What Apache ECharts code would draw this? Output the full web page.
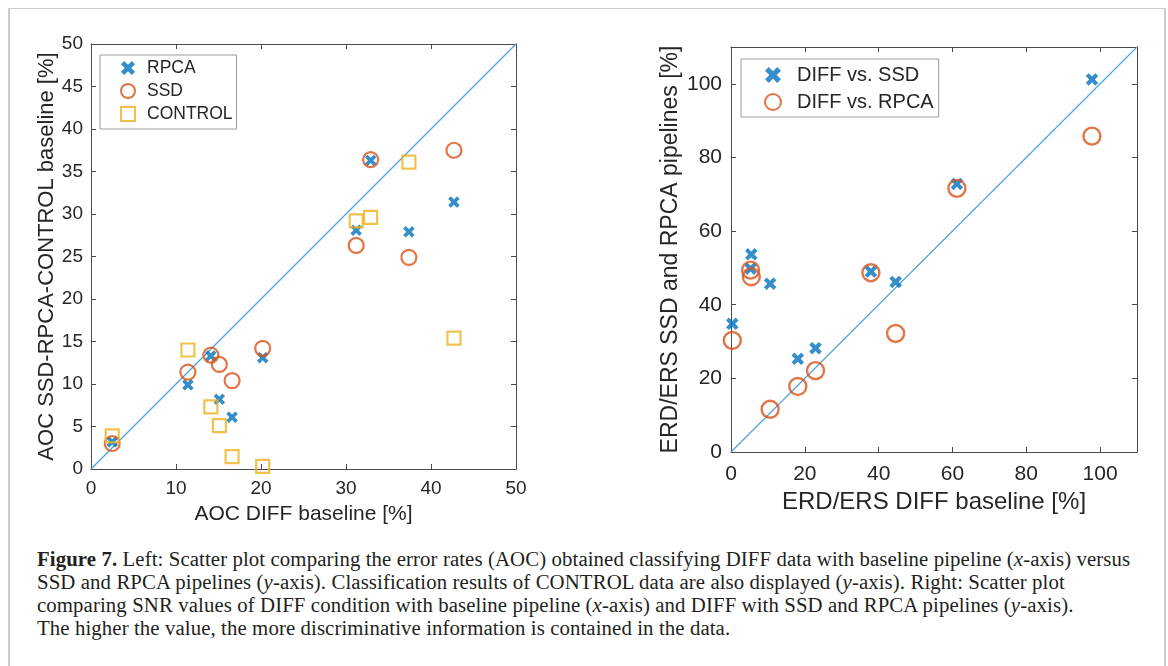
<!DOCTYPE html>
<html>
<head>
<meta charset="utf-8">
<script src="https://cdn.jsdelivr.net/npm/echarts@6/dist/echarts.min.js"></script>
<style>
html, body { margin: 0; padding: 0; background: #fff; }
#frame {
  position: absolute; left: 8px; top: 8px; width: 1154px; height: 700px;
  border-left: 2px solid #cccccc; border-top: 1px solid #cccccc; border-right: 2px solid #cccccc;
}
#chart { position: absolute; left: 0; top: 0; width: 1168px; height: 535px; }
#caption {
  position: absolute; left: 37px; top: 547px;
  font-family: "Liberation Serif", serif; font-size: 20.8px; line-height: 23px;
  letter-spacing: 0.1px;
  color: #231f20; white-space: nowrap;
}
#caption b { font-weight: bold; }
</style>
</head>
<body>
<div id="frame"></div>
<div id="chart"></div>
<div id="caption">
<b>Figure 7.</b> Left: Scatter plot comparing the error rates (AOC) obtained classifying DIFF data with baseline pipeline (<i>x</i>-axis) versus<br>
SSD and RPCA pipelines (<i>y</i>-axis). Classification results of CONTROL data are also displayed (<i>y</i>-axis). Right: Scatter plot<br>
comparing SNR values of DIFF condition with baseline pipeline (<i>x</i>-axis) and DIFF with SSD and RPCA pipelines (<i>y</i>-axis).<br>
The higher the value, the more discriminative information is contained in the data.
</div>
<script>
// left panel: AOC error rates
var aocDiff = [2.5, 11.4, 14.1, 15.1, 16.6, 20.2, 31.2, 32.9, 37.4, 42.7];
var aocRpca = [3.2, 9.9, 13.3, 8.2, 6.1, 13.1, 28.1, 36.3, 27.9, 31.4];
var aocSsd = [3.0, 11.4, 13.4, 12.3, 10.4, 14.2, 26.3, 36.4, 24.9, 37.5];
var aocControl = [3.9, 14.0, 7.3, 5.1, 1.45, 0.3, 29.2, 29.6, 36.1, 15.4];

// right panel: ERD/ERS
var erdDiff = [0.35, 5.3, 5.5, 10.6, 18.1, 22.9, 37.9, 44.6, 61.2, 97.8];
var erdVsSsd = [34.8, 49.8, 53.7, 45.7, 25.3, 28.2, 49.0, 46.2, 72.8, 101.2];
var erdVsRpca = [30.3, 49.4, 47.6, 11.6, 17.8, 22.1, 48.7, 32.2, 71.6, 85.8];

// y = x reference lines
var leftDiag = [[0, 0], [50, 50]];
var rightDiag = [[0, 0], [110, 110]];

var leftNames = ['RPCA', 'SSD', 'CONTROL'];
var rightNames = ['DIFF vs. SSD', 'DIFF vs. RPCA'];

var BLUE = '#0072BD', ORANGE = '#D95319', YELLOW = '#EDB120', REF = '#4a9fe0';
var AXIS = '#4a4a4a', TXT = '#262626';
var FONT = '"Liberation Sans", Arial, sans-serif';
// filled "x" marker
var CROSS = 'path://M2.3,0L5,2.7L7.7,0L10,2.3L7.3,5L10,7.7L7.7,10L5,7.3L2.3,10L0,7.7L2.7,5L0,2.3Z';

function zip(xs, ys) {
  return xs.map(function (x, i) { return [x, ys[i]]; });
}

function axisPair(gridIndex, max, interval, fs, nameFs, labelMargin, name, nameGap, isY) {
  var main = {
    type: 'value', gridIndex: gridIndex, min: 0, max: max, interval: interval,
    position: isY ? 'left' : 'bottom',
    name: name, nameLocation: 'middle', nameGap: nameGap,
    nameTextStyle: { fontFamily: FONT, fontSize: nameFs, color: TXT },
    axisLine: { show: true, onZero: false, lineStyle: { color: AXIS, width: 1 } },
    axisTick: { show: true, inside: true, length: 5, lineStyle: { color: AXIS } },
    axisLabel: { fontFamily: FONT, fontSize: fs, color: TXT, margin: labelMargin, showMaxLabel: max % interval === 0 },
    splitLine: { show: false }
  };
  var other = {
    type: 'value', gridIndex: gridIndex, min: 0, max: max, interval: interval,
    position: isY ? 'right' : 'top',
    axisLine: { show: true, onZero: false, lineStyle: { color: AXIS, width: 1 } },
    axisTick: { show: true, inside: true, length: 5, lineStyle: { color: AXIS } },
    axisLabel: { show: false },
    splitLine: { show: false }
  };
  return [main, other];
}

var chart = echarts.init(document.getElementById('chart'), null, { renderer: 'canvas' });

var xAxes = axisPair(0, 50, 10, 19, 21, 10, 'AOC DIFF baseline [%]', 35, false)
  .concat(axisPair(1, 110, 20, 21, 24, 12, 'ERD/ERS DIFF baseline [%]', 37, false));
var yAxes = axisPair(0, 50, 5, 19, 22, 8, 'AOC SSD-RPCA-CONTROL baseline [%]', 32, true)
  .concat(axisPair(1, 110, 20, 21, 23, 9, 'ERD/ERS SSD and RPCA pipelines [%]', 49, true));

var option = {
  animation: false,
  backgroundColor: 'transparent',
  textStyle: { fontFamily: FONT },
  grid: [
    { left: 91, top: 44, width: 425, height: 425 },
    { left: 731, top: 47, width: 406, height: 405 }
  ],
  xAxis: xAxes,
  yAxis: yAxes,
  legend: [
    {
      data: leftNames, left: 100, top: 55, orient: 'vertical',
      itemWidth: 14, itemHeight: 14, itemGap: 5,
      padding: [4, 4, 6, 20],
      backgroundColor: '#fff', borderColor: '#9a9a9a', borderWidth: 1, borderRadius: 0,
      textStyle: { fontFamily: FONT, fontSize: 17.5, color: TXT, padding: [0, 0, 0, 7] }
    },
    {
      data: rightNames, left: 741, top: 59, orient: 'vertical',
      itemWidth: 16, itemHeight: 16, itemGap: 7,
      padding: [6, 5, 5, 23],
      backgroundColor: '#fff', borderColor: '#9a9a9a', borderWidth: 1, borderRadius: 0,
      textStyle: { fontFamily: FONT, fontSize: 20, color: TXT, padding: [0, 0, 0, 11] }
    }
  ],
  series: [
    {
      name: 'ref-left', type: 'line', xAxisIndex: 0, yAxisIndex: 0, data: leftDiag,
      symbol: 'none', silent: true, z: 1,
      itemStyle: { color: REF }, lineStyle: { color: REF, width: 1.3 }
    },
    {
      name: 'ref-right', type: 'line', xAxisIndex: 2, yAxisIndex: 2, data: rightDiag,
      symbol: 'none', silent: true, z: 1,
      itemStyle: { color: REF }, lineStyle: { color: REF, width: 1.1 }
    },
    {
      name: 'RPCA', type: 'scatter', xAxisIndex: 0, yAxisIndex: 0,
      data: zip(aocDiff, aocRpca), symbol: CROSS, symbolSize: 11.5,
      itemStyle: { color: BLUE }
    },
    {
      name: 'SSD', type: 'scatter', xAxisIndex: 0, yAxisIndex: 0,
      data: zip(aocDiff, aocSsd), symbol: 'circle', symbolSize: 15,
      itemStyle: { color: 'rgba(0,0,0,0)', borderColor: ORANGE, borderWidth: 2.2 }
    },
    {
      name: 'CONTROL', type: 'scatter', xAxisIndex: 0, yAxisIndex: 0,
      data: zip(aocDiff, aocControl), symbol: 'rect', symbolSize: 13,
      itemStyle: { color: 'rgba(0,0,0,0)', borderColor: YELLOW, borderWidth: 2.2 }
    },
    {
      name: 'DIFF vs. SSD', type: 'scatter', xAxisIndex: 2, yAxisIndex: 2,
      data: zip(erdDiff, erdVsSsd), symbol: CROSS, symbolSize: 12.5,
      itemStyle: { color: BLUE }
    },
    {
      name: 'DIFF vs. RPCA', type: 'scatter', xAxisIndex: 2, yAxisIndex: 2,
      data: zip(erdDiff, erdVsRpca), symbol: 'circle', symbolSize: 17,
      itemStyle: { color: 'rgba(0,0,0,0)', borderColor: ORANGE, borderWidth: 2.4 }
    }
  ]
};

chart.setOption(option);
</script>
</body>
</html>
